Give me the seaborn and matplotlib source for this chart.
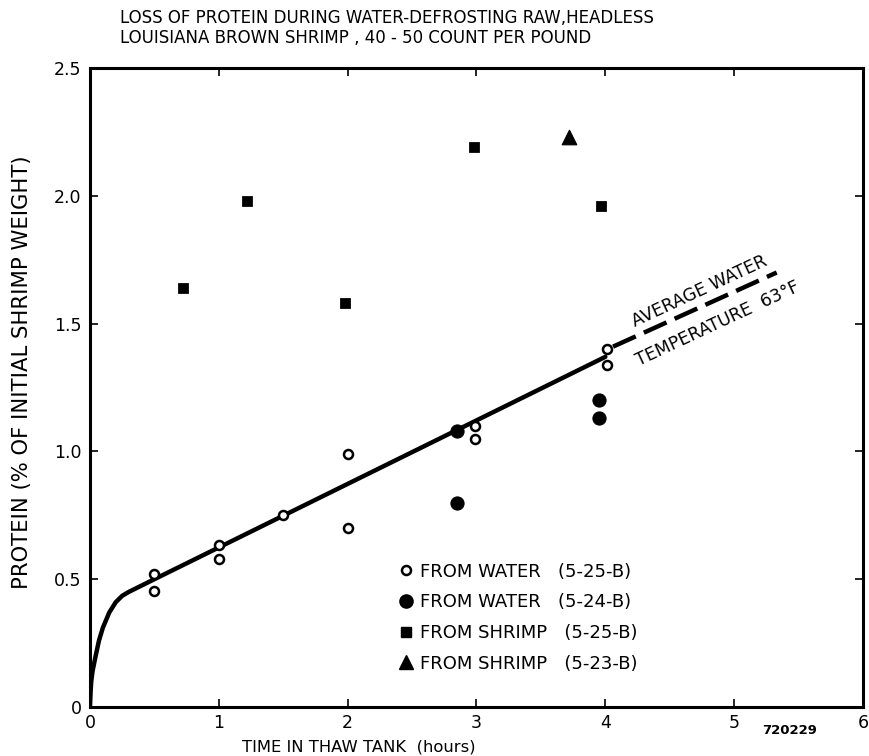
import matplotlib
matplotlib.use("Agg")
import matplotlib.pyplot as plt
import seaborn as sns
from matplotlib.lines import Line2D

# ---- data ----
water_a_x = [0.5, 0.5, 1.0, 1.0, 1.5, 2.0, 2.0, 2.99, 2.99, 4.01, 4.01]
water_a_y = [0.52, 0.455, 0.635, 0.58, 0.75, 0.99, 0.70, 1.10, 1.05, 1.40, 1.34]
water_b_x = [2.85, 2.85, 3.95, 3.95]
water_b_y = [1.08, 0.80, 1.20, 1.13]
shrimp_a_x = [0.72, 1.22, 1.98, 2.98, 3.97]
shrimp_a_y = [1.64, 1.98, 1.58, 2.19, 1.96]
shrimp_b_x = [3.72]
shrimp_b_y = [2.23]
curve_x = [0, 0.005, 0.01, 0.02, 0.04, 0.07, 0.1, 0.15, 0.2, 0.25, 0.3, 0.5, 4.0]
curve_y = [0, 0.06, 0.10, 0.14, 0.19, 0.26, 0.31, 0.37, 0.41, 0.435, 0.45, 0.50, 1.37]
dash_x = [4.06, 5.33]
dash_y = [1.41, 1.70]
x_ticks = [0, 1, 2, 3, 4, 5, 6]
x_tick_labels = ["0", "1", "2", "3", "4", "5", "6"]
y_ticks = [0, 0.5, 1.0, 1.5, 2.0, 2.5]
y_tick_labels = ["0", "0.5", "1.0", "1.5", "2.0", "2.5"]
legend_labels = ["FROM WATER   (5-25-B)", "FROM WATER   (5-24-B)",
                 "FROM SHRIMP   (5-25-B)", "FROM SHRIMP   (5-23-B)"]

sns.set_theme(style="ticks")
plt.rcParams["font.family"] = ["DejaVu Sans"]
plt.rcParams["text.color"] = "black"
plt.rcParams["axes.labelcolor"] = "black"
plt.rcParams["xtick.color"] = "black"
plt.rcParams["ytick.color"] = "black"

fig = plt.figure(figsize=(8.70, 7.56), dpi=100)
ax = fig.add_axes([0.1034, 0.0648, 0.8886, 0.8452])

lw = 3.2
sns.lineplot(x=curve_x, y=curve_y, ax=ax, color="black", linewidth=lw,
             estimator=None, sort=False)
sns.lineplot(x=dash_x, y=dash_y, ax=ax, color="black", linewidth=lw,
             estimator=None, sort=False)
ax.lines[-1].set_dashes([5.6, 2.0])
ax.lines[-1].set_dash_capstyle("butt")

sns.scatterplot(x=water_a_x, y=water_a_y, ax=ax, marker="o", s=42,
                facecolor="white", edgecolor="black", linewidth=1.8, zorder=5)
sns.scatterplot(x=water_b_x, y=water_b_y, ax=ax, marker="o", s=90,
                color="black", edgecolor="black", zorder=5)
sns.scatterplot(x=shrimp_a_x, y=shrimp_a_y, ax=ax, marker="s", s=50,
                color="black", edgecolor="black", zorder=5)
sns.scatterplot(x=shrimp_b_x, y=shrimp_b_y, ax=ax, marker="^", s=110,
                color="black", edgecolor="black", zorder=5)

ax.set_xlim(0, 6)
ax.set_ylim(0, 2.5)
ax.set_xticks(x_ticks)
ax.set_xticklabels(x_tick_labels)
ax.set_yticks(y_ticks)
ax.set_yticklabels(y_tick_labels)
ax.tick_params(direction="in", length=6, width=1.2, labelsize=12.5,
               top=True, right=True, colors="black", pad=6)
ax.tick_params(axis="x", pad=5)
for sp in ax.spines.values():
    sp.set_linewidth(2.2)
    sp.set_color("black")
ax.set_xlabel("")
ax.set_ylabel("")

handles = [
    Line2D([], [], marker="o", ls="", markersize=6.5, markerfacecolor="white",
           markeredgecolor="black", markeredgewidth=1.8),
    Line2D([], [], marker="o", ls="", markersize=9.5, color="black"),
    Line2D([], [], marker="s", ls="", markersize=7, color="black"),
    Line2D([], [], marker="^", ls="", markersize=10, color="black"),
]
ax.legend(handles, legend_labels, loc="upper left", bbox_to_anchor=(0.393, 0.237),
          frameon=False, fontsize=13, handlelength=0.6, handletextpad=0.45,
          labelspacing=0.7, borderaxespad=0)

ax.text(4.73, 1.625, "AVERAGE WATER", rotation=25, rotation_mode="anchor",
        ha="center", va="center", fontsize=12.5, transform=ax.transData)
ax.text(4.87, 1.50, "TEMPERATURE  63°F", rotation=25, rotation_mode="anchor",
        ha="center", va="center", fontsize=12.5, transform=ax.transData)

fig.text(0.138, 0.988, "LOSS OF PROTEIN DURING WATER-DEFROSTING RAW,HEADLESS",
         ha="left", va="top", fontsize=12)
fig.text(0.138, 0.962, "LOUISIANA BROWN SHRIMP , 40 - 50 COUNT PER POUND",
         ha="left", va="top", fontsize=12)
fig.text(0.025, 0.508, "PROTEIN (% OF INITIAL SHRIMP WEIGHT)", rotation=90,
         ha="center", va="center", fontsize=15.2)
fig.text(0.413, 0.002, "TIME IN THAW TANK  (hours)", ha="center", va="bottom",
         fontsize=11.8)
fig.text(0.908, 0.034, "720229", ha="center", va="center", fontsize=9.5,
         fontweight="bold")

fig.savefig("out.png", dpi=100)
